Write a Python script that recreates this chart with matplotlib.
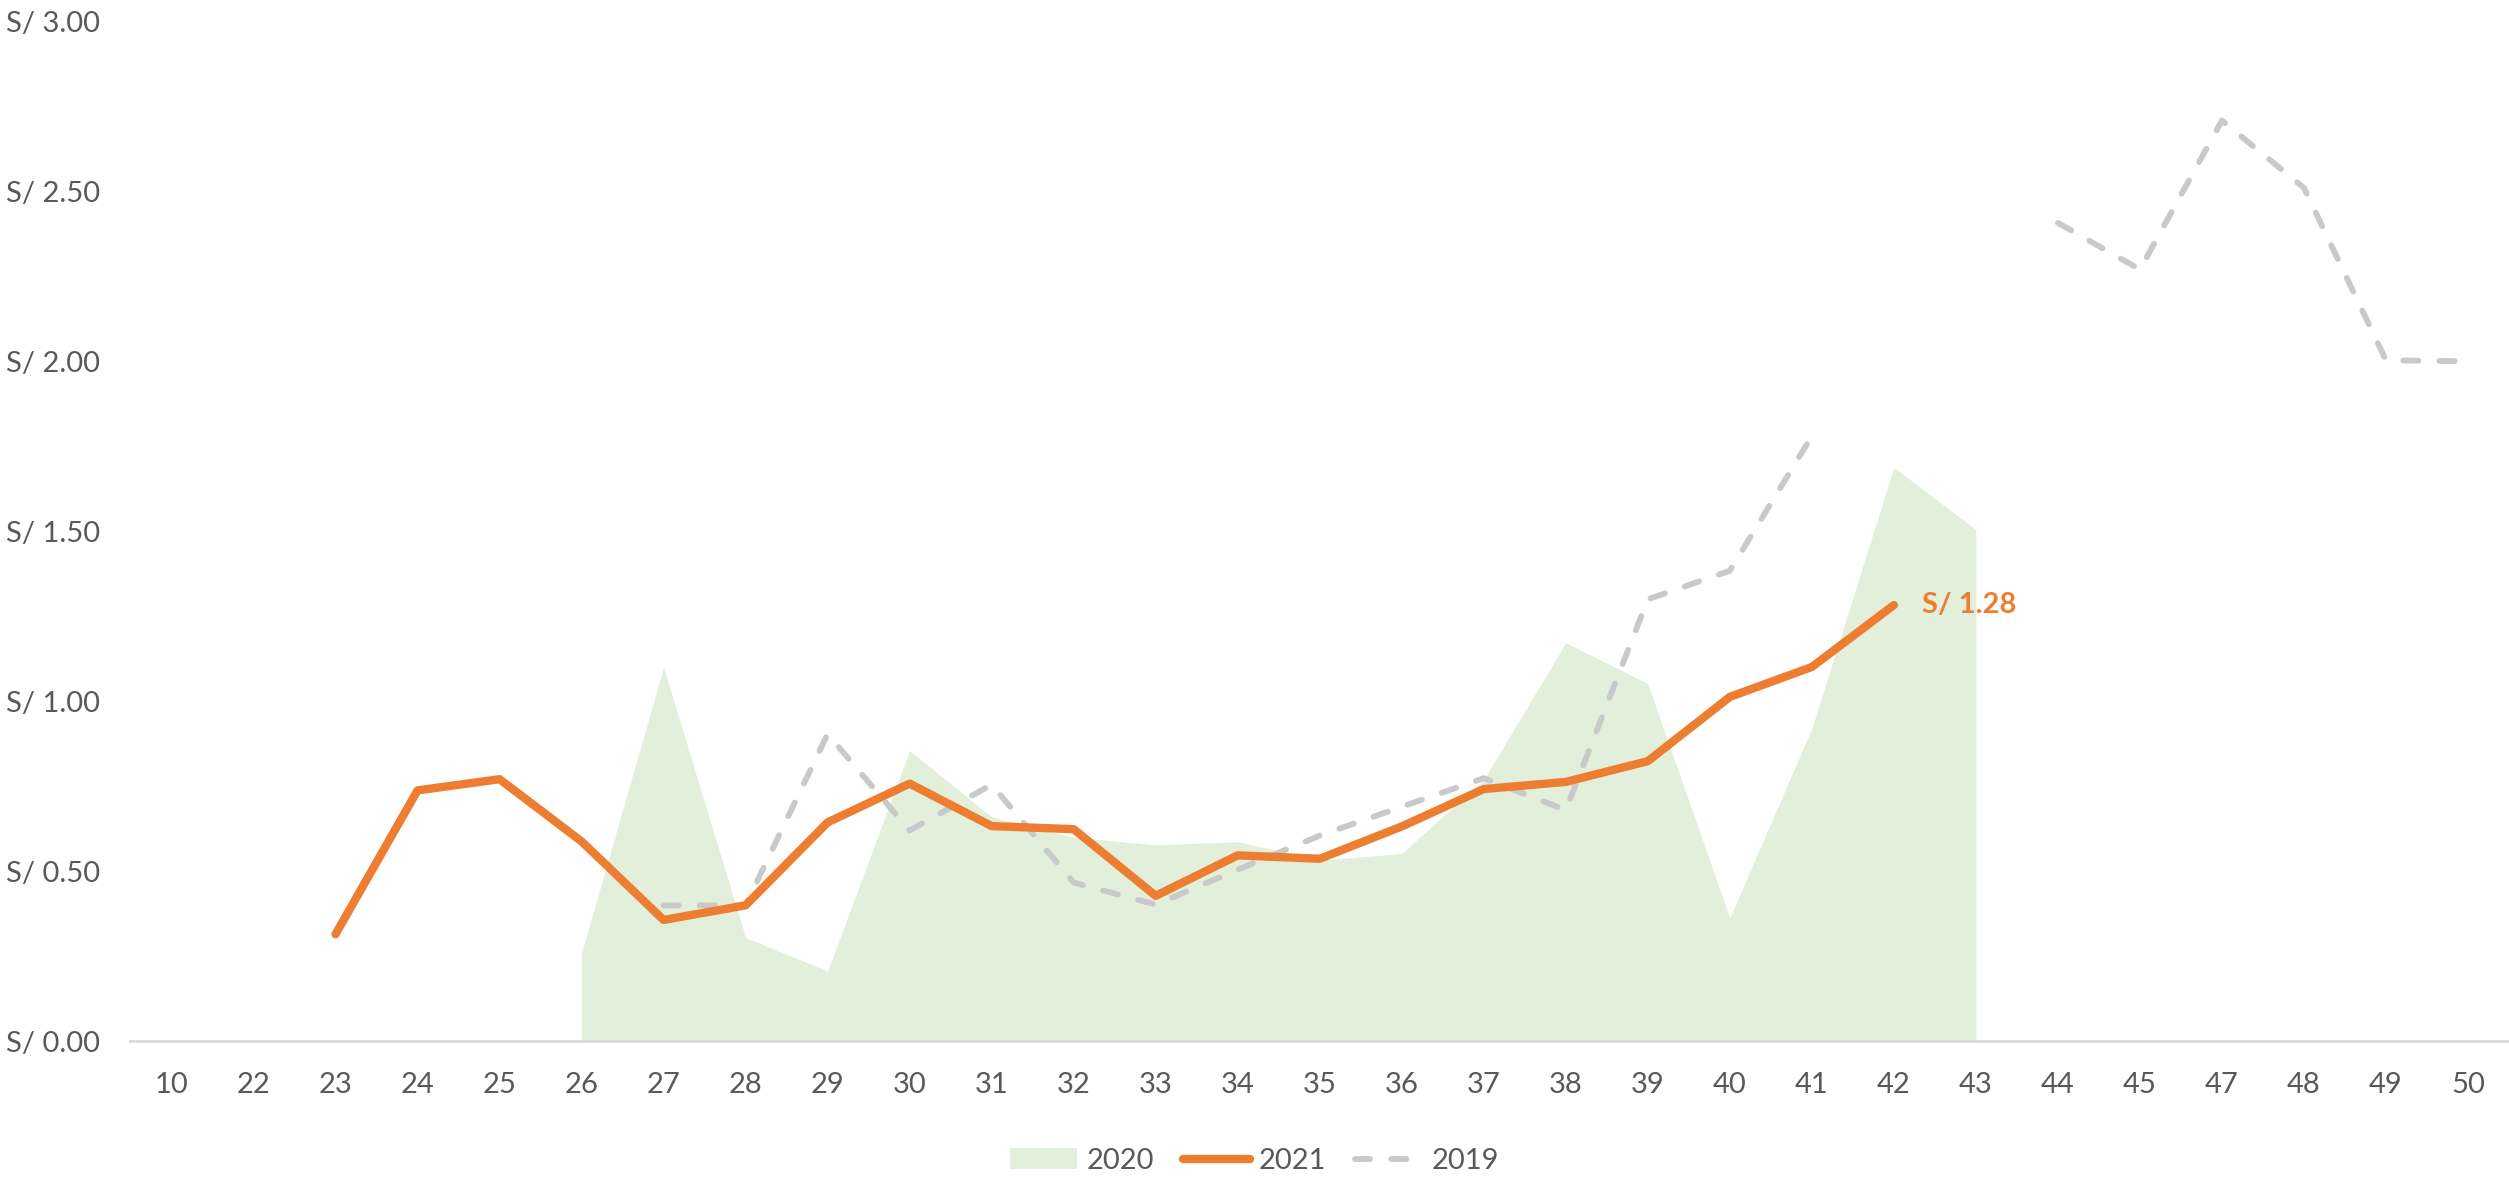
import matplotlib
matplotlib.use('Agg')
import matplotlib.pyplot as plt
from matplotlib.patches import Patch
from matplotlib.lines import Line2D
import numpy as np

plt.rcParams['font.family'] = ['Lato', 'DejaVu Sans']

nan = np.nan
weeks = ['10', '22', '23', '24', '25', '26', '27', '28', '29', '30', '31', '32', '33', '34', '35',
         '36', '37', '38', '39', '40', '41', '42', '43', '44', '45', '47', '48', '49', '50']

# 2020 area (green)
y2020 = [nan, nan, nan, nan, nan, 0.26, 1.10, 0.305, 0.207, 0.855, 0.66, 0.60, 0.578, 0.587, 0.533,
         0.552, 0.77, 1.172, 1.052, 0.363, 0.92, 1.688, 1.505, nan, nan, nan, nan, nan, nan]
# 2021 line (orange)
y2021 = [nan, nan, 0.315, 0.738, 0.771, 0.588, 0.357, 0.40, 0.644, 0.758, 0.633, 0.624, 0.428, 0.547, 0.537,
         0.632, 0.742, 0.763, 0.824, 1.013, 1.101, 1.283, nan, nan, nan, nan, nan, nan, nan]
# 2019 line (grey dashed)
y2019 = [nan, nan, nan, nan, nan, nan, 0.40, 0.40, 0.904, 0.62, 0.755, 0.467, 0.402, 0.505, 0.605,
         0.69, 0.774, 0.68, 1.30, 1.384, 1.78, nan, nan, 2.407, 2.27, 2.708, 2.51, 2.003, 2.0]

last_label = 'S/ 1.28'

GREEN = '#E2EFDA'
ORANGE = '#ED7D31'
GREY = '#C9C9C9'
TEXT = '#595959'

x = np.arange(len(weeks))
a2020 = np.array(y2020)
a2021 = np.array(y2021)
a2019 = np.array(y2019)

fig = plt.figure(figsize=(25.09, 11.82), dpi=100)
ax = fig.add_axes([0.052, 0.119, 0.948, 0.863])

ax.fill_between(x, 0, a2020, where=~np.isnan(a2020), color=GREEN, lw=0, interpolate=False)
ax.plot(x, a2019, color=GREY, lw=4.2, linestyle=(0, (2.6, 3.6)), dash_capstyle='round',
        solid_capstyle='round')
ax.plot(x, a2021, color=ORANGE, lw=6, solid_capstyle='round', solid_joinstyle='round')

i_last = int(np.nanargmax(np.where(np.isnan(a2021), -1, x)))
ax.annotate(last_label, (x[i_last], a2021[i_last]), xytext=(20, 0), textcoords='offset points',
            color=ORANGE, fontsize=21, fontweight='bold', va='center', ha='left')

ax.set_xlim(-0.5, len(weeks) - 0.5)
ax.set_ylim(0, 3.0)
ax.set_xticks(x)
ax.set_xticklabels(weeks)
ax.set_yticks(np.arange(0, 3.01, 0.5))
ax.set_yticklabels(['S/ %.2f' % v for v in np.arange(0, 3.01, 0.5)])
ax.tick_params(axis='both', length=0, labelsize=21, labelcolor=TEXT)
ax.tick_params(axis='x', pad=22)
ax.tick_params(axis='y', pad=22)
for s in ['top', 'right', 'left']:
    ax.spines[s].set_visible(False)
ax.spines['bottom'].set_color('#D9D9D9')
ax.spines['bottom'].set_linewidth(2)

handles = [Patch(facecolor=GREEN, edgecolor='none'),
           Line2D([], [], color=ORANGE, lw=6, solid_capstyle='round'),
           Line2D([], [], color=GREY, lw=4.2, linestyle=(0, (2.6, 3.6)), dash_capstyle='round')]
fig.legend(handles, ['2020', '2021', '2019'], loc='center', bbox_to_anchor=(0.5, 0.018),
           ncol=3, frameon=False, fontsize=21, labelcolor=TEXT, handlelength=2.3,
           columnspacing=1.0, handletextpad=0.3)

fig.savefig('out.png', dpi=100)
